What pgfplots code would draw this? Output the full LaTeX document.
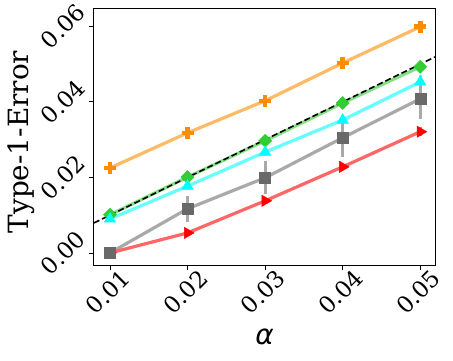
\documentclass[border=0pt]{standalone}
\usepackage{pgfplots}
\pgfplotsset{compat=1.18}
\usepackage{fontspec}
\setmainfont{DejaVu Serif}
\setsansfont{DejaVu Sans}
\definecolor{dorange}{HTML}{FF8C00}
\definecolor{lorange}{HTML}{FFBA66}
\definecolor{lgreen}{HTML}{32CD32}
\definecolor{llgreen}{HTML}{84E184}
\definecolor{pcyan}{HTML}{00FFFF}
\definecolor{lcyan}{HTML}{66FFFF}
\definecolor{dgray}{HTML}{696969}
\definecolor{lgray}{HTML}{A9A9A9}
\definecolor{lred}{HTML}{FF6666}
\begin{document}
\begin{tikzpicture}
\begin{axis}[
  scale only axis,
  width=341bp, height=256bp,
  xmin=0.00794, xmax=0.0519,
  ymin=-0.0032, ymax=0.0646,
  scaled ticks=false,
  /pgf/number format/assume math mode=true,
  xtick={0.01,0.02,0.03,0.04,0.05},
  xticklabels={0.01,0.02,0.03,0.04,0.05},
  ytick={0,0.02,0.04,0.06},
  yticklabels={0.00,0.02,0.04,0.06},
  x tick label style={yshift=-22bp, xshift=-2bp, rotate=45, anchor=center, font=\fontsize{23}{26}\selectfont, inner sep=0bp},
  y tick label style={xshift=-26bp, rotate=45, anchor=center, font=\fontsize{23}{26}\selectfont, inner sep=0bp},
  tick align=outside,
  tick style={black, line width=0.8bp},
  major tick length=5bp,
  xtick pos=bottom, ytick pos=left,
  axis line style={black, line width=1bp},
  xlabel={\sffamily\itshape α},
  ylabel={Type-1-Error},
  every axis x label/.style={at={(rel axis cs:0.5,0)}, yshift=-72bp, anchor=center, font=\fontsize{28}{30}\selectfont},
  every axis y label/.style={at={(rel axis cs:0,0.5)}, xshift=-73bp, yshift=-5bp, rotate=90, anchor=center, font=\fontsize{28}{30}\selectfont},
  clip=false,
  every axis plot/.append style={line width=3.2bp},
  error bars/y dir=both,
  error bars/y explicit,
  error bars/error mark=none,
]
% orange
\addplot[lorange, mark=+, mark size=6bp, mark options={dorange, line width=4.5bp},
  error bars/error bar style={lorange, line width=3bp}]
  table[x=x, y=y, y error=e] {
x y e
0.01 0.0225 0.0010
0.02 0.0318 0.0010
0.03 0.0403 0.0010
0.04 0.0503 0.0010
0.05 0.0599 0.0012
};
% green
\addplot[llgreen, mark=square*, mark size=4.6bp, mark options={lgreen, fill=lgreen, line width=0.5bp, rotate=45},
  error bars/error bar style={llgreen, line width=3bp}]
  table[x=x, y=y, y error=e] {
x y e
0.01 0.0101 0.0005
0.02 0.0201 0.0006
0.03 0.0297 0.0006
0.04 0.0397 0.0007
0.05 0.0493 0.0008
};
% cyan
\addplot[lcyan, mark=triangle*, mark size=6.5bp, mark options={pcyan, fill=pcyan, line width=0.5bp},
  error bars/error bar style={lcyan, line width=3bp}]
  table[x=x, y=y, y error=e] {
x y e
0.01 0.0090 0.0006
0.02 0.0177 0.0008
0.03 0.0267 0.0009
0.04 0.0352 0.0012
0.05 0.0453 0.0018
};
% gray
\addplot[lgray, mark=square*, mark size=5.5bp, mark options={dgray, fill=dgray, line width=0.5bp},
  error bars/error bar style={lgray, line width=3bp}]
  table[x=x, y=y, y error=e] {
x y e
0.01 0.0000 0.0000
0.02 0.0117 0.0034
0.03 0.0199 0.0044
0.04 0.0305 0.0050
0.05 0.0408 0.0052
};
% red
\addplot[lred, mark=triangle*, mark size=6.5bp, mark options={red, fill=red, line width=0.5bp, rotate=-90},
  error bars/error bar style={lred, line width=3bp}]
  table[x=x, y=y, y error=e] {
x y e
0.01 0.0000 0.0003
0.02 0.0053 0.0006
0.03 0.0138 0.0006
0.04 0.0228 0.0007
0.05 0.0321 0.0012
};
% redraw gray square at 0.01 on top
\addplot[only marks, mark=square*, mark size=5.5bp, mark options={dgray, fill=dgray, line width=0.5bp}] coordinates {(0.01,0)};
% y = x
\addplot[black, line width=1.6bp, dash pattern=on 6bp off 3bp, mark=none] coordinates {(0.00794,0.00794) (0.0519,0.0519)};
\coordinate (ll) at (rel axis cs:0,0);
\coordinate (ur) at (rel axis cs:1,1);
\end{axis}
\path ([shift={(-94bp,-95bp)}]ll) rectangle ([shift={(18bp,9bp)}]ur);
\end{tikzpicture}
\end{document}
